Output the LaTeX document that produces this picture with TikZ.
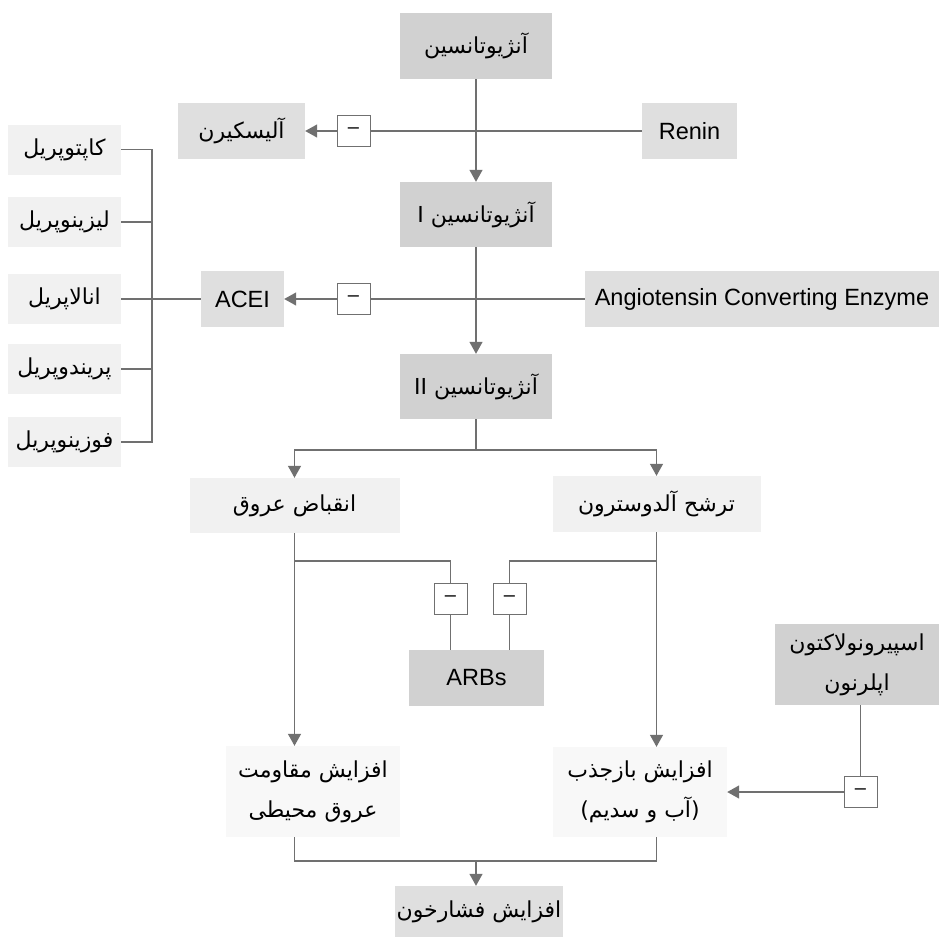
\documentclass[tikz,border=0pt]{standalone}
\usepackage{fontspec}
\setmainfont{Liberation Sans}
\newfontfamily\fafont[Script=Arabic]{DejaVu Sans}
\TeXXeTstate=1
\usetikzlibrary{arrows.meta}
\definecolor{cDark}{HTML}{D1D1D1}
\definecolor{cMed}{HTML}{DFDFDF}
\definecolor{cLight}{HTML}{F1F1F1}
\definecolor{cVLight}{HTML}{F8F8F8}
\definecolor{cLine}{HTML}{707070}
\newcommand{\rl}[1]{\beginR #1\endR}
\tikzset{
  base/.style={rectangle, draw=none, inner sep=2pt, align=center, text=black},
  dk/.style={base, fill=cDark},
  md/.style={base, fill=cMed},
  lt/.style={base, fill=cLight},
  vl/.style={base, fill=cVLight},
  pfont/.style={font=\fafont\fontsize{22}{40}\selectfont},
  lfont/.style={font=\fontsize{23.5}{26}\selectfont},
  mbox/.style={rectangle, draw=cLine, fill=white, line width=1pt, minimum width=33pt, minimum height=31pt, inner sep=0pt, font=\fontsize{20}{22}\selectfont},
  ln/.style={draw=cLine, line width=1.3pt},
  ar/.style={ln, -{Triangle[length=12pt,width=13pt]}, shorten >=0pt}
}
\begin{document}
\begin{tikzpicture}[x=1pt,y=-1pt]
\useasboundingbox (0,0) rectangle (939,937);
\fill[white] (0,0) rectangle (939,937);
% main chain
\node[dk, pfont, minimum width=152pt, minimum height=66pt] (a0) at (476,46) {\rl{آنژیوتانسین}};
\node[md, pfont, minimum width=127pt, minimum height=56pt] (ali) at (241.5,131) {\rl{آلیسکیرن}};
\node[md, lfont, minimum width=95pt, minimum height=56pt] (renin) at (689.5,131) {Renin};
\node[mbox] (m1) at (353.5,131) {–};
\node[dk, pfont, minimum width=152pt, minimum height=65pt] (a1) at (476,214.5) {\rl{آنژیوتانسین I}};
\node[md, lfont, minimum width=83pt, minimum height=56pt] (acei) at (242.5,299) {ACEI};
\node[md, lfont, minimum width=354pt, minimum height=56pt] (ace) at (762,299) {Angiotensin Converting Enzyme};
\node[mbox] (m2) at (353.5,299) {–};
\node[dk, pfont, minimum width=152pt, minimum height=65pt] (a2) at (476,386.5) {\rl{آنژیوتانسین II}};
% drugs
\node[lt, pfont, minimum width=113pt, minimum height=50pt] (d1) at (64.5,149.5) {\rl{کاپتوپریل}};
\node[lt, pfont, minimum width=113pt, minimum height=50pt] (d2) at (64.5,222) {\rl{لیزینوپریل}};
\node[lt, pfont, minimum width=113pt, minimum height=50pt] (d3) at (64.5,299) {\rl{انالاپریل}};
\node[lt, pfont, minimum width=113pt, minimum height=50pt] (d4) at (64.5,369) {\rl{پریندوپریل}};
\node[lt, pfont, minimum width=113pt, minimum height=50pt] (d5) at (64.5,442) {\rl{فوزینوپریل}};
\coordinate (bk) at (152,299);
% effects
\node[lt, pfont, minimum width=210pt, minimum height=55pt] (vaso) at (294.5,505.5) {\rl{انقباض عروق}};
\node[lt, pfont, minimum width=208pt, minimum height=56pt] (aldo) at (656.5,504) {\rl{ترشح آلدوسترون}};
\node[mbox] (m3) at (450.5,599) {–};
\node[mbox] (m4) at (509.5,599) {–};
\node[dk, lfont, minimum width=135pt, minimum height=56pt] (arb) at (476.5,678) {ARBs};
\node[dk, pfont, minimum width=164pt, minimum height=81pt] (spiro) at (857,664.5) {\rl{اسپیرونولاکتون}\\\rl{اپلرنون}};
\node[vl, pfont, minimum width=174pt, minimum height=91pt] (res) at (313,791.5) {\rl{افزایش مقاومت}\\\rl{عروق محیطی}};
\node[vl, pfont, minimum width=174pt, minimum height=90pt] (reab) at (640,792) {\rl{افزایش بازجذب}\\\rl{(آب و سدیم)}};
\node[mbox] (m5) at (860.5,792) {–};
\node[md, pfont, minimum width=168pt, minimum height=51pt] (bp) at (479,911.5) {\rl{افزایش فشارخون}};
\coordinate (br) at (476,450);
\coordinate (j1) at (294.5,561);
\coordinate (j2) at (656.5,561);
\coordinate (j3) at (294.5,861);
\coordinate (j4) at (656.5,861);
\coordinate (j5) at (476,861);
% connectors
\draw[ar] (a0.south) -- (a1.north);
\draw[ln] (renin.west) -- (m1.east);
\draw[ar] (m1.west) -- (ali.east);
\draw[ar] (a1.south) -- (a2.north);
\draw[ln] (ace.west) -- (m2.east);
\draw[ar] (m2.west) -- (acei.east);
\foreach \d in {d1,d2,d3,d4,d5} {\draw[ln] (\d.east) -| (bk);}
\draw[ln] (bk) -- (acei.west);
\draw[ln] (a2.south) -- (br);
\draw[ar] (br) -| (vaso.north);
\draw[ar] (br) -| (aldo.north);
\draw[ar] (vaso.south) -- (vaso.south |- res.north);
\draw[ar] (aldo.south) -- (aldo.south |- reab.north);
\draw[ln] (j1) -| (m3.north);
\draw[ln] (j2) -| (m4.north);
\draw[ln] (m3.south) -- (m3.south |- arb.north);
\draw[ln] (m4.south) -- (m4.south |- arb.north);
\draw[ln] (m5.north |- spiro.south) -- (m5.north);
\draw[ar] (m5.west) -- (reab.east |- m5.west);
\draw[ln] (vaso.south |- res.south) -- (j3) -- (j4) -- (aldo.south |- reab.south);
\draw[ar] (j5) -- (j5 |- bp.north);
\end{tikzpicture}
\end{document}
